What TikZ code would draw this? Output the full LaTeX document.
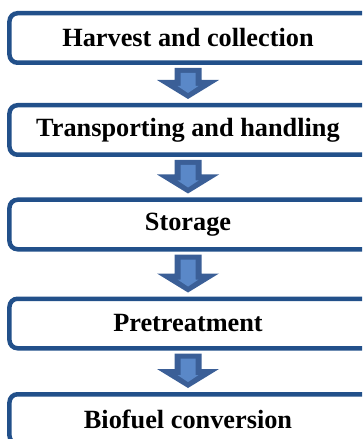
\documentclass[tikz,border=0pt]{standalone}
\usepackage{fontspec}
\setmainfont{Liberation Serif}
\usetikzlibrary{calc}
\definecolor{stageblue}{HTML}{22508A}
\definecolor{arrdark}{HTML}{3B5F97}
\definecolor{arrlight}{HTML}{5A88C8}
\tikzset{
  stageb/.style={draw=stageblue, line width=4.5bp, fill=white, rounded corners=8bp,
    minimum width=369bp, minimum height=49.5bp, inner sep=0pt,
    execute at end node={\hspace*{12bp}},
    font=\fontsize{26.3bp}{30bp}\selectfont\bfseries},
  arrb/.style={fill=arrdark},
  arrin/.style={fill=arrlight},
}

\begin{document}
\begin{tikzpicture}[x=1bp, y=-1bp]
    \useasboundingbox (0,0) rectangle (362,439);
    \clip (0,0) rectangle (362,439);
    \node[stageb] (harv) at (194,38) {Harvest and collection};
    \node[stageb] (trans) at (194,130) {Transporting and handling};
    \node[stageb] (stor) at (194,224.5) {Storage};
    \node[stageb] (pret) at (194,323.5) {Pretreatment};
    \node[stageb] (conv) at (194,419) {Biofuel conversion};
    % block arrows between the stages (drawn under the text centre, 6bp left of box centre)
    \foreach \a/\b in {harv/trans, trans/stor, stor/pret, pret/conv} {
      \fill[arrb] ($(\a.south)+(-19.5,3)$) -- ($(\b.north)+(-19.5,-23)$) -- ++(-17.5,0)
        -- ($(\b.north)+(-6,-4)$) -- ++(31,-19) -- ++(-17.5,0)
        -- ($(\a.south)+(7.5,3)$) -- cycle;
      \fill[arrin] ($(\a.south)+(-13.5,8)$) -- ($(\b.north)+(-13.5,-17)$) -- ++(-3,0)
        -- ($(\b.north)+(-6,-10)$) -- ++(10.5,-7) -- ++(-3,0)
        -- ($(\a.south)+(1.5,8)$) -- cycle;
    }
\end{tikzpicture}
\end{document}
